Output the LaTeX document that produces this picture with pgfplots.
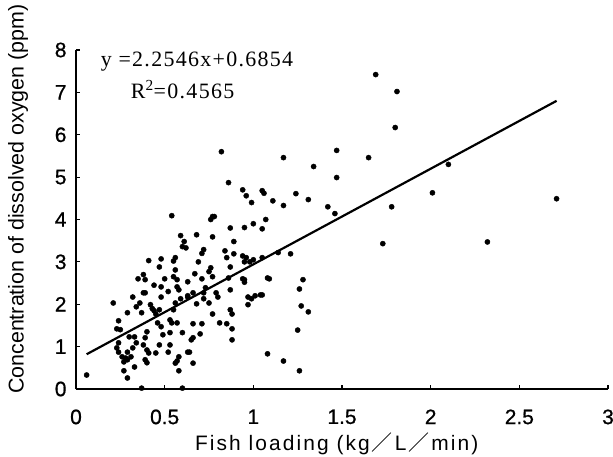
\documentclass[border=0pt]{standalone}
\usepackage{fontspec}
\setmainfont{Liberation Sans}
\newfontfamily\eqfont[LetterSpace=6]{Liberation Serif}
\newfontfamily\xlabfont[LetterSpace=10]{Liberation Sans}
\newfontfamily\tickfont[FakeBold=0.8]{Liberation Sans}
\newfontfamily\cjk{Noto Sans CJK JP}
\usepackage{pgfplots}
\pgfplotsset{compat=1.18}

\pgfplotstableread{
x y
0.06 0.33
0.37 0.02
0.60 0.02
0.29 0.26
0.27 0.43
0.33 0.52
0.27 0.64
0.28 0.73
0.26 0.76
0.24 0.87
0.29 0.87
0.31 0.76
0.29 0.69
0.23 0.97
0.24 1.09
0.32 0.97
0.34 1.09
0.30 1.23
0.33 1.23
0.38 1.04
0.40 0.92
0.41 0.85
0.45 0.85
0.39 0.69
0.40 0.62
0.39 1.21
0.40 1.35
0.49 1.28
0.47 1.04
0.52 0.87
0.53 1.04
0.53 1.33
0.58 0.76
0.57 0.66
0.56 0.61
0.58 0.43
0.60 1.33
0.63 0.87
0.64 0.87
0.66 0.61
0.66 1.21
0.65 1.16
0.70 1.30
0.66 1.54
0.71 1.54
0.77 1.77
0.81 1.56
0.85 1.54
0.87 1.87
0.88 1.77
0.88 1.42
0.88 1.16
0.97 1.99
1.01 2.20
0.23 1.42
0.25 1.40
0.24 1.61
0.29 1.80
0.37 1.80
0.21 2.03
0.34 1.94
0.36 2.03
0.42 1.99
0.32 2.17
0.38 2.27
0.47 1.87
0.45 1.77
0.46 1.56
0.48 1.47
0.55 1.87
0.57 1.56
0.53 1.63
0.54 1.56
0.56 2.03
0.59 2.13
0.63 2.20
0.66 2.27
0.68 2.01
0.72 2.13
0.75 2.03
0.79 2.27
0.43 1.90
0.44 1.85
0.54 4.09
0.76 4.00
0.77 4.07
0.78 4.07
0.87 3.80
1.07 4.00
0.59 3.62
0.68 3.64
0.77 3.59
0.89 3.48
0.61 3.48
0.62 3.33
0.60 3.36
0.84 3.26
0.89 3.19
0.72 3.29
0.71 3.20
0.56 3.10
0.55 3.02
0.69 3.00
0.76 2.86
0.75 2.77
0.85 3.10
0.94 3.14
0.95 3.00
0.98 3.00
0.87 2.88
0.67 2.72
0.71 2.60
0.77 2.65
0.56 2.81
0.55 2.65
0.57 2.58
0.63 2.53
0.86 2.62
0.94 2.60
0.95 2.52
1.08 2.62
0.57 2.41
0.58 2.34
0.73 2.39
0.72 2.27
0.87 2.34
0.63 2.17
0.80 2.17
0.97 2.17
1.04 2.22
0.41 3.03
0.48 3.07
0.47 2.88
0.38 2.70
0.39 2.58
0.39 2.27
0.48 2.41
0.48 2.17
0.52 2.30
0.44 2.45
0.35 2.60
0.50 2.60
0.82 5.60
0.86 4.87
0.94 4.70
0.96 4.56
0.99 4.40
0.95 3.81
1.00 3.90
1.05 3.78
1.05 4.68
1.06 4.62
1.11 4.44
1.17 5.46
1.17 4.33
1.24 4.61
1.34 5.25
1.31 4.47
1.47 5.63
1.47 4.99
1.42 4.30
1.46 4.14
1.65 5.46
1.80 6.17
1.78 4.30
1.73 3.43
1.69 7.42
1.81 7.02
2.01 4.63
2.10 5.30
2.32 3.47
2.71 4.49
1.05 3.10
1.14 3.22
1.21 3.19
0.95 2.58
1.09 2.60
1.28 2.58
1.26 2.36
0.99 2.13
1.05 2.22
1.27 1.96
1.31 1.82
1.25 1.39
1.08 0.83
1.17 0.66
1.26 0.43
1.00 3.05
0.96 3.10
}\fishdata

\begin{document}
\begin{tikzpicture}
\begin{axis}[
    scale only axis,
    width=532bp,
    height=339bp,
    xmin=0, xmax=3,
    ymin=0, ymax=8,
    axis lines=left,
    axis line style={-, line width=2pt},
    tick align=inside,
    major tick length=4bp,
    tick style={black, line width=1.2pt},
    xtick={0,0.5,1,1.5,2,2.5,3},
    xticklabels={0,0.5,1,1.5,2,2.5,3},
    ytick={0,1,2,3,4,5,6,7,8},
    yticklabels={0,1,2,3,4,5,6,7,8},
    tick label style={font=\tickfont\fontsize{21}{23}\selectfont},
    xticklabel style={yshift=-17bp},
    yticklabel style={xshift=-6bp},
    xlabel={\xlabfont Fish loading (kg\hspace{2bp}{\cjk ／}\hspace{2bp}L\hspace{2bp}{\cjk ／}\hspace{2bp}min)},
    ylabel={Concentration of dissolved oxygen (ppm)},
    xlabel style={font=\fontsize{21}{23}\selectfont, at={(axis description cs:0.49,-0.161)}, anchor=center},
    ylabel style={font=\fontsize{21.5}{23}\selectfont, at={(axis description cs:-0.109,0.56)}, anchor=center},
    clip=false,
]
\addplot[only marks, mark=*, mark size=2.6pt, black] table[x=x, y=y] {\fishdata};
\addplot[black, line width=2.2pt] coordinates {(0.06, 0.82) (2.71, 6.80)};
\node[anchor=west, font=\eqfont\fontsize{22}{24}\selectfont] at (axis cs:0.12,7.73) {y =2.2546x+0.6854};
\node[anchor=west, font=\eqfont\fontsize{22}{24}\selectfont] at (axis cs:0.29,7.07) {R\textsuperscript{2}=0.4565};
\end{axis}
\pgfresetboundingbox
\path[use as bounding box] ([shift={(-76bp,-68bp)}]current axis.south west) rectangle ([shift={(5bp,50bp)}]current axis.north east);
\end{tikzpicture}
\end{document}
